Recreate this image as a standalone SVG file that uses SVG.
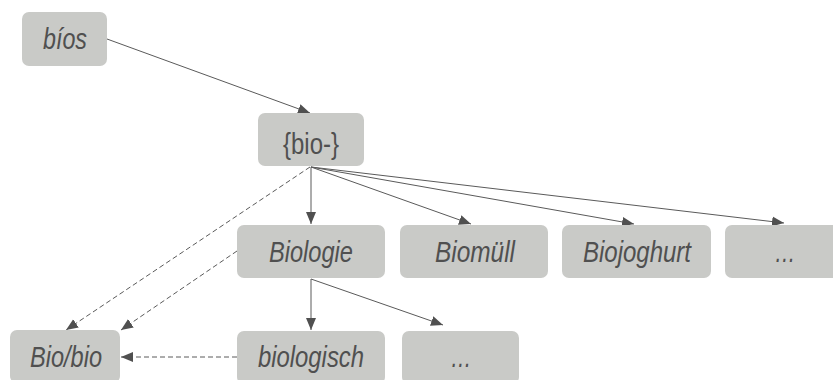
<svg xmlns="http://www.w3.org/2000/svg" width="833" height="380" viewBox="0 0 833 380">
  <style>
    .box { fill: #c9cac7; }
    .t { font-family: "Liberation Sans", Arial, sans-serif; font-size: 30px; fill: #505050; text-anchor: middle; }
    .i { font-style: italic; }
    .ln { stroke: #5a5a5a; stroke-width: 1; fill: none; marker-end: url(#ah); }
    .d { stroke-dasharray: 5 3; }
  </style>
  <defs>
    <marker id="ah" markerUnits="userSpaceOnUse" markerWidth="13" markerHeight="11" refX="12" refY="5.5" orient="auto">
      <path d="M0,0.5 L12,5.5 L0,10.5 z" fill="#505050"/>
    </marker>
  </defs>

  <g id="connectors">
    <line class="ln" x1="107" y1="39" x2="310" y2="113"/>
    <line class="ln" x1="311" y1="167" x2="311" y2="224"/>
    <line class="ln" x1="311" y1="167" x2="471" y2="224"/>
    <line class="ln" x1="311" y1="167" x2="634" y2="224"/>
    <line class="ln" x1="311" y1="167" x2="784" y2="223"/>
    <line class="ln d" x1="310" y1="167" x2="66" y2="330"/>
    <line class="ln d" x1="237" y1="251" x2="121" y2="330"/>
    <line class="ln" x1="311" y1="279" x2="311" y2="330"/>
    <line class="ln" x1="311" y1="279" x2="443" y2="325"/>
    <line class="ln d" x1="237" y1="357" x2="121" y2="357"/>
  </g>

  <g id="n-bios">
    <rect class="box" x="22" y="12" width="85" height="54" rx="7"/>
    <text class="t i" x="65" y="48.5" textLength="44" lengthAdjust="spacingAndGlyphs">bíos</text>
  </g>
  <g id="n-bio">
    <rect class="box" x="258" y="113" width="106" height="53" rx="7"/>
    <text class="t" x="311" y="154" textLength="56" lengthAdjust="spacingAndGlyphs">{bio-}</text>
  </g>
  <g id="n-biologie">
    <rect class="box" x="237" y="225" width="148" height="53" rx="7"/>
    <text class="t i" x="311" y="262" textLength="84" lengthAdjust="spacingAndGlyphs">Biologie</text>
  </g>
  <g id="n-biomuell">
    <rect class="box" x="400" y="225" width="148" height="53" rx="7"/>
    <text class="t i" x="475" y="262" textLength="80" lengthAdjust="spacingAndGlyphs">Biomüll</text>
  </g>
  <g id="n-biojoghurt">
    <rect class="box" x="562" y="225" width="149" height="53" rx="7"/>
    <text class="t i" x="637" y="262" textLength="108" lengthAdjust="spacingAndGlyphs">Biojoghurt</text>
  </g>
  <g id="n-more1">
    <rect class="box" x="725" y="225" width="120" height="53" rx="7"/>
    <text class="t i" x="785" y="262" textLength="21" lengthAdjust="spacingAndGlyphs">…</text>
  </g>
  <g id="n-biobio">
    <rect class="box" x="10" y="330" width="110" height="53" rx="7"/>
    <text class="t i" x="66" y="367" textLength="72" lengthAdjust="spacingAndGlyphs">Bio/bio</text>
  </g>
  <g id="n-biologisch">
    <rect class="box" x="237" y="331" width="148" height="53" rx="7"/>
    <text class="t i" x="311" y="367" textLength="106" lengthAdjust="spacingAndGlyphs">biologisch</text>
  </g>
  <g id="n-more2">
    <rect class="box" x="402" y="331" width="117" height="53" rx="7"/>
    <text class="t i" x="461" y="367" textLength="21" lengthAdjust="spacingAndGlyphs">…</text>
  </g>
</svg>
